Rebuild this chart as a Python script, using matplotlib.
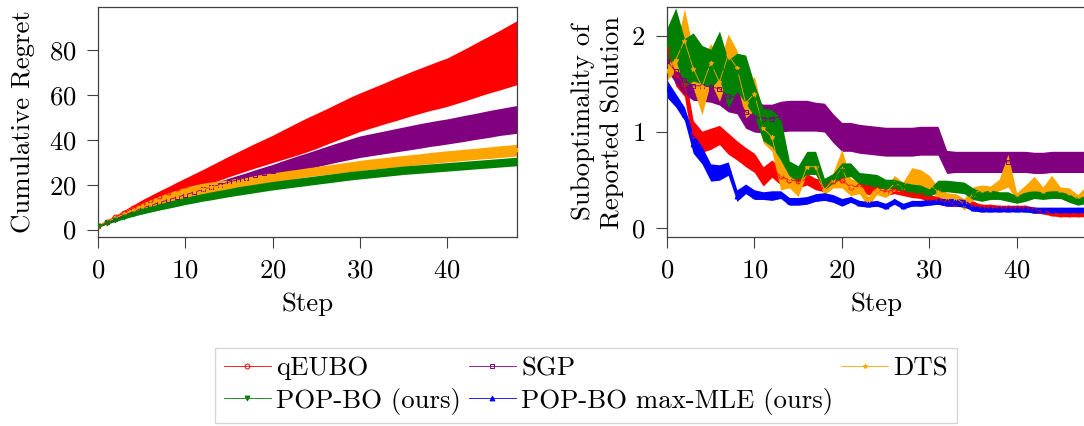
import numpy as np
import matplotlib
matplotlib.use("Agg")
import matplotlib.pyplot as plt

plt.rcParams["font.family"] = ["cmr10", "DejaVu Serif"]
plt.rcParams["mathtext.fontset"] = "cm"
plt.rcParams["axes.unicode_minus"] = False
plt.rcParams["axes.formatter.use_mathtext"] = True
plt.rcParams["font.size"] = 19.3

steps = list(range(49))

# cumulative regret (mean, std)
qeubo_regret = [1.5,3.5,5.5,7.5,9.5,11.5,13.3,15.0,16.7,18.4,20.0,21.6,23.2,24.8,26.5,28.2,29.8,31.4,33.0,34.5,
                36.0,37.6,39.2,40.8,42.4,44.0,45.7,47.4,49.1,50.8,52.4,53.8,55.2,56.6,58.0,59.4,60.8,62.1,63.4,64.6,
                65.8,67.4,69.0,70.7,72.4,74.0,75.6,77.3,79.0]
qeubo_regret_sd = [0.5,0.7,0.9,1.2,1.4,1.7,1.9,2.2,2.4,2.7,3.0,3.3,3.6,4.0,4.3,4.6,4.9,5.2,5.5,5.8,
                   6.1,6.5,6.9,7.3,7.6,7.8,7.9,8.1,8.3,8.5,8.6,8.8,9.0,9.2,9.5,9.7,9.9,10.1,10.3,10.6,
                   10.8,11.2,11.6,12.0,12.4,12.8,13.3,13.8,14.3]
sgp_regret = [1.5,3.2,4.8,6.4,8.0,9.5,10.8,12.0,13.2,14.4,15.5,16.7,17.9,19.0,20.1,21.2,22.2,23.2,24.3,25.3,
              26.3,27.5,28.6,29.7,30.7,31.8,32.9,34.0,35.0,36.0,37.0,37.7,38.4,39.1,39.8,40.5,41.2,41.9,42.6,43.2,
              43.8,44.5,45.2,45.9,46.6,47.3,48.0,48.6,49.2]
sgp_regret_sd = [0.3,0.4,0.5,0.6,0.7,0.8,0.9,1.0,1.1,1.2,1.3,1.4,1.5,1.6,1.7,1.8,2.0,2.2,2.4,2.6,
                 2.8,3.0,3.2,3.4,3.6,3.8,4.0,4.2,4.4,4.6,4.8,4.9,5.0,5.1,5.2,5.3,5.4,5.5,5.5,5.6,
                 5.6,5.7,5.8,5.8,5.9,6.0,6.0,6.1,6.2]
dts_regret = [1.5,3.4,5.2,6.9,8.5,10.0,11.4,12.7,14.0,15.2,16.4,17.4,18.2,18.9,19.5,20.0,20.6,21.3,22.0,22.6,
              23.2,23.8,24.4,25.0,25.6,26.1,26.6,27.1,27.6,28.1,28.6,29.1,29.5,29.9,30.3,30.7,31.1,31.5,31.9,32.3,
              32.7,33.0,33.4,33.7,34.1,34.4,34.8,35.1,35.5]
dts_regret_sd = [0.5,0.8,1.1,1.4,1.7,1.9,2.1,2.3,2.4,2.5,2.5,2.5,2.5,2.4,2.3,2.3,2.3,2.2,2.2,2.2,
                 2.2,2.1,2.1,2.0,2.0,2.0,2.1,2.1,2.2,2.2,2.3,2.3,2.3,2.3,2.4,2.4,2.4,2.4,2.5,2.5,
                 2.5,2.5,2.5,2.5,2.5,2.6,2.6,2.6,2.6]
popbo_regret = [1.5,3.0,4.4,5.8,7.0,8.1,9.1,10.1,11.0,11.9,12.8,13.6,14.4,15.1,15.8,16.5,17.2,17.8,18.4,19.0,
                19.6,20.1,20.6,21.1,21.6,22.1,22.6,23.1,23.6,24.1,24.5,24.9,25.3,25.7,26.1,26.5,26.8,27.1,27.4,27.7,
                28.0,28.3,28.6,28.9,29.2,29.5,29.8,30.1,30.4]
popbo_regret_sd = [0.4,0.6,0.8,1.0,1.1,1.2,1.3,1.4,1.5,1.6,1.6,1.7,1.7,1.8,1.8,1.8,1.9,1.9,1.9,1.9,
                   1.9,1.9,1.9,1.9,1.9,1.9,1.9,1.9,1.9,1.9,1.9,1.9,1.9,1.9,1.9,1.9,1.9,1.9,1.9,1.9,
                   1.9,1.9,1.9,1.9,1.9,1.9,1.9,1.9,1.9]

# suboptimality of reported solution (mean, std)
qeubo_sub = [1.87,1.60,1.50,0.97,0.90,0.93,0.97,0.88,0.81,0.74,0.68,0.54,0.62,0.54,0.50,0.49,0.51,0.46,0.44,0.49,
             0.50,0.43,0.44,0.41,0.41,0.38,0.40,0.38,0.36,0.35,0.31,0.29,0.27,0.26,0.26,0.25,0.22,0.22,0.21,0.21,
             0.21,0.21,0.19,0.18,0.16,0.15,0.15,0.15,0.15]
qeubo_sub_sd = [0.10,0.12,0.13,0.15,0.11,0.11,0.10,0.11,0.10,0.10,0.10,0.10,0.09,0.09,0.07,0.07,0.06,0.06,0.06,0.05,
                0.05,0.05,0.05,0.06,0.05,0.04,0.04,0.04,0.04,0.04,0.04,0.04,0.04,0.03,0.03,0.03,0.03,0.03,0.03,0.03,
                0.03,0.03,0.03,0.03,0.03,0.03,0.03,0.03,0.03]
sgp_sub = [1.74,1.63,1.54,1.48,1.48,1.47,1.45,1.37,1.36,1.21,1.16,1.14,1.14,1.16,1.17,1.17,1.17,1.16,1.15,1.04,
           0.95,0.95,0.93,0.92,0.91,0.90,0.90,0.90,0.90,0.91,0.91,0.91,0.69,0.69,0.69,0.69,0.69,0.69,0.69,0.69,
           0.69,0.69,0.68,0.68,0.69,0.69,0.69,0.69,0.69]
sgp_sub_sd = [0.10,0.12,0.15,0.15,0.16,0.16,0.17,0.16,0.17,0.17,0.16,0.15,0.15,0.16,0.16,0.16,0.16,0.15,0.15,0.15,
              0.15,0.15,0.15,0.15,0.15,0.15,0.15,0.15,0.15,0.15,0.15,0.15,0.12,0.11,0.11,0.11,0.11,0.11,0.11,0.11,
              0.11,0.11,0.11,0.11,0.11,0.11,0.11,0.11,0.11]
dts_sub = [1.63,1.75,1.95,1.66,1.47,1.72,1.52,1.80,1.67,1.30,1.40,1.04,0.95,0.56,0.52,0.40,0.64,0.64,0.40,0.50,
           0.62,0.43,0.42,0.28,0.40,0.36,0.47,0.43,0.54,0.52,0.46,0.38,0.33,0.32,0.25,0.36,0.40,0.40,0.45,0.60,
           0.33,0.40,0.45,0.38,0.46,0.38,0.37,0.30,0.38]
dts_sub_sd = [0.09,0.12,0.33,0.20,0.29,0.20,0.20,0.22,0.18,0.15,0.18,0.15,0.15,0.16,0.10,0.07,0.07,0.07,0.05,0.08,
              0.20,0.09,0.06,0.05,0.05,0.04,0.08,0.05,0.09,0.09,0.09,0.05,0.04,0.04,0.06,0.07,0.05,0.04,0.06,0.17,
              0.04,0.05,0.09,0.05,0.09,0.05,0.05,0.05,0.07]
popbo_sub = [1.90,2.02,1.72,1.78,1.70,1.66,1.80,1.50,1.62,1.55,1.33,1.08,1.04,0.93,0.62,0.57,0.68,0.68,0.46,0.52,
             0.60,0.61,0.52,0.51,0.49,0.46,0.46,0.43,0.41,0.40,0.37,0.44,0.44,0.43,0.42,0.36,0.33,0.35,0.34,0.33,
             0.30,0.33,0.35,0.34,0.35,0.35,0.31,0.28,0.30]
popbo_sub_sd = [0.18,0.27,0.25,0.25,0.20,0.20,0.25,0.25,0.20,0.25,0.17,0.17,0.19,0.22,0.08,0.08,0.12,0.12,0.06,0.05,
                0.08,0.07,0.06,0.06,0.07,0.05,0.05,0.05,0.05,0.05,0.04,0.06,0.06,0.06,0.06,0.06,0.05,0.05,0.04,0.05,
                0.04,0.05,0.04,0.04,0.04,0.04,0.04,0.04,0.04]
mle_sub = [1.45,1.33,1.19,0.88,0.76,0.58,0.58,0.62,0.34,0.41,0.35,0.34,0.34,0.35,0.28,0.28,0.29,0.32,0.33,0.31,
           0.27,0.30,0.26,0.25,0.26,0.23,0.28,0.23,0.26,0.26,0.27,0.28,0.27,0.27,0.26,0.21,0.20,0.20,0.20,0.20,
           0.20,0.20,0.19,0.19,0.19,0.19,0.19,0.19,0.19]
mle_sub_sd = [0.09,0.07,0.07,0.10,0.09,0.09,0.08,0.07,0.06,0.05,0.05,0.04,0.05,0.04,0.04,0.04,0.04,0.04,0.04,0.04,
              0.04,0.03,0.03,0.03,0.03,0.03,0.03,0.03,0.03,0.03,0.03,0.03,0.04,0.04,0.04,0.03,0.03,0.03,0.03,0.03,
              0.03,0.03,0.03,0.03,0.03,0.03,0.03,0.03,0.03]

names = ["qEUBO", "SGP", "DTS", "POP-BO (ours)", "POP-BO max-MLE (ours)"]
colors = ["red", "purple", "orange", "green", "blue"]
markers = ["o", "s", "*", "v", "^"]
mfc = ["none", "none", "orange", "green", "blue"]

left_data = [(qeubo_regret, qeubo_regret_sd), (sgp_regret, sgp_regret_sd),
             (dts_regret, dts_regret_sd), (popbo_regret, popbo_regret_sd)]
right_data = [(qeubo_sub, qeubo_sub_sd), (sgp_sub, sgp_sub_sd), (dts_sub, dts_sub_sd),
              (popbo_sub, popbo_sub_sd), (mle_sub, mle_sub_sd)]

fig = plt.figure(figsize=(10.84, 4.26), dpi=100)
ax1 = fig.add_axes([0.0904, 0.4437, 0.3865, 0.540])
ax2 = fig.add_axes([0.6153, 0.4437, 0.3871, 0.540])


def draw(ax, data):
    handles = []
    for i, (m, s) in enumerate(data):
        m = np.array(m)
        s = np.array(s)
        ax.fill_between(steps, m - s, m + s, color=colors[i], lw=0, zorder=1 + i * 0.01)
    for i, (m, s) in enumerate(data):
        h, = ax.plot(steps, m, color=colors[i], lw=0.6, marker=markers[i], ms=3.5,
                     mfc=mfc[i], mew=0.7, zorder=3, label=names[i])
        handles.append(h)
    return handles


draw(ax1, left_data)
handles = draw(ax2, right_data)

ax1.set_xlim(0, 48)
ax1.set_ylim(-3.3, 99.4)
ax1.set_xticks([0, 10, 20, 30, 40])
ax1.set_yticks([0, 20, 40, 60, 80])
ax1.set_xlabel("Step", labelpad=7)
ax1.set_ylabel("Cumulative Regret", labelpad=10)

ax2.set_xlim(0, 48)
ax2.set_ylim(-0.09, 2.30)
ax2.set_xticks([0, 10, 20, 30, 40])
ax2.set_yticks([0, 1, 2])
ax2.set_xlabel("Step", labelpad=7)
ax2.set_ylabel("Suboptimality of\nReported Solution", labelpad=5, linespacing=1.3)

for ax in (ax1, ax2):
    ax.tick_params(direction="out", length=8, width=0.8, color="#404040", pad=7.5)
    for sp in ax.spines.values():
        sp.set_color("#404040")
        sp.set_linewidth(0.9)

# legend filled column by column: reorder so rows read qEUBO, SGP, DTS / POP-BO, max-MLE
order = [0, 3, 1, 4, 2]
leg = fig.legend([handles[k] for k in order], [names[k] for k in order], ncol=3,
                 loc="upper center", bbox_to_anchor=(586 / 1084, 1 - 348 / 426), borderaxespad=0,
                 frameon=True, fancybox=False, edgecolor="#cccccc", handlelength=1.75,
                 handletextpad=0.2, columnspacing=0.3, labelspacing=0.27, borderpad=0.32,
                 markerscale=1.0)
leg.get_frame().set_linewidth(1.0)

fig.savefig("out.png", dpi=100)
